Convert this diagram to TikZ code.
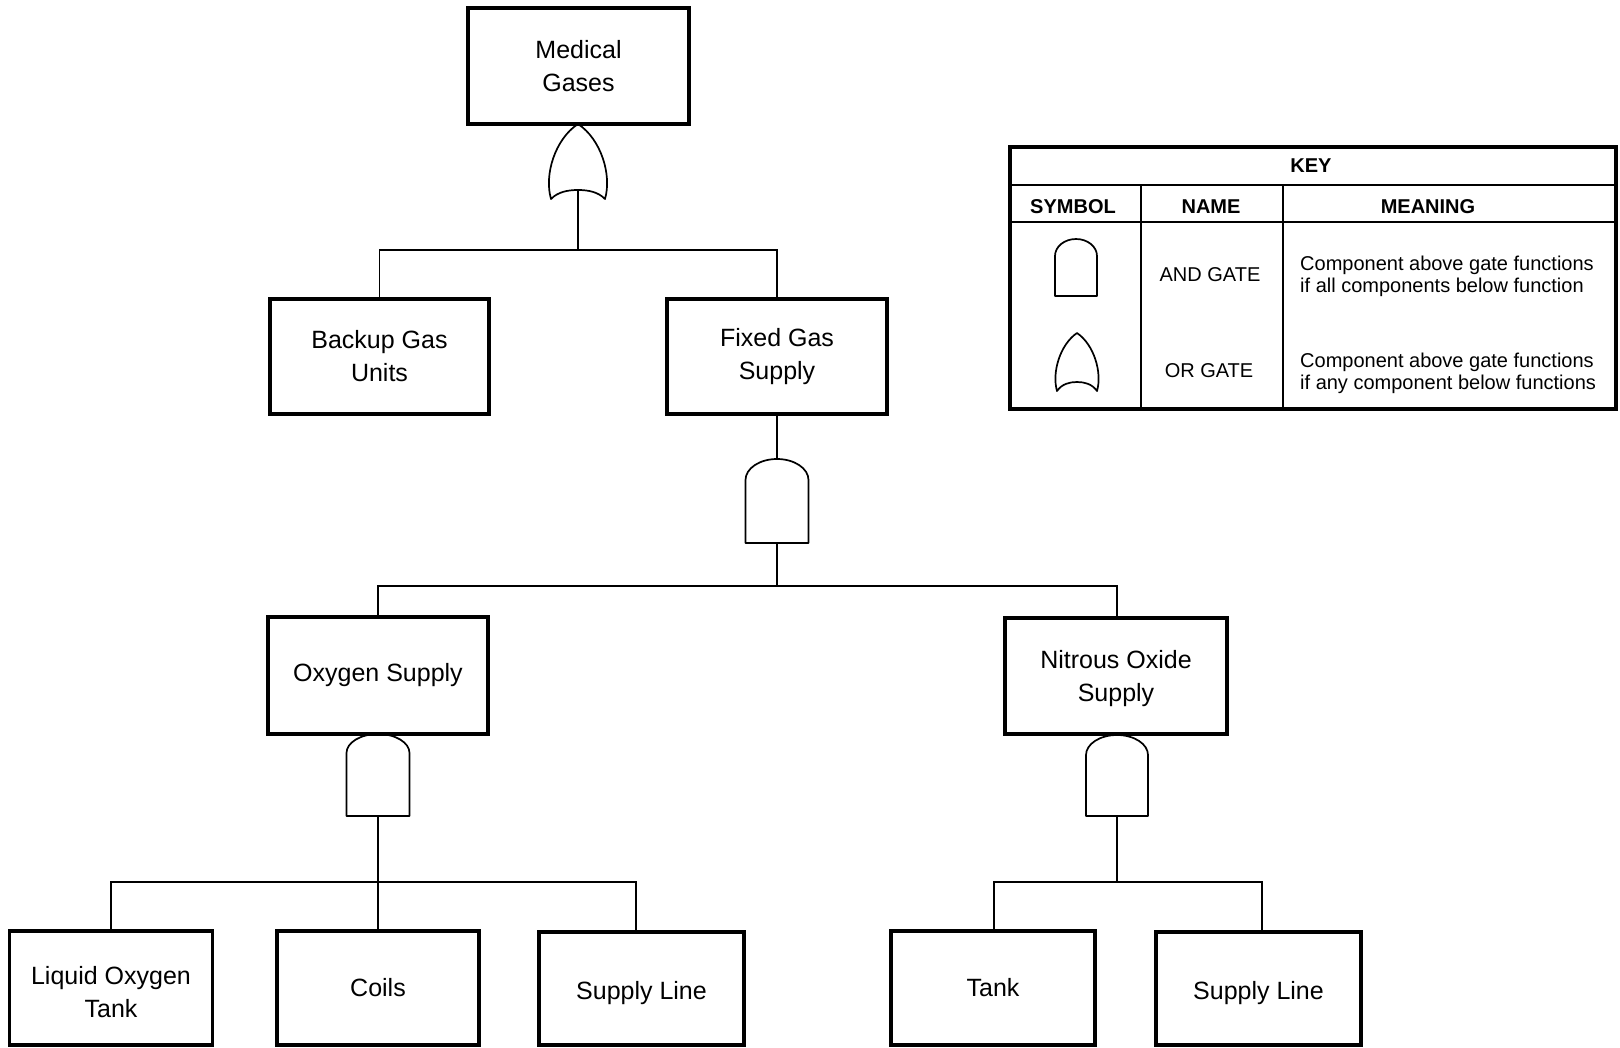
\documentclass[tikz,border=0pt]{standalone}
\usepackage{fontspec}
\setmainfont{Liberation Sans}
\newcommand{\drawAND}[6]{% name, cx, top, halfw, side start y, bottom
  \draw[gateline] ({#2-#4},{#6}) -- ({#2-#4},{#5})
    .. controls ({#2-#4},{#5-0.552*(#5-#3)}) and ({#2-0.552*#4},{#3}) .. ({#2},{#3})
    .. controls ({#2+0.552*#4},{#3}) and ({#2+#4},{#5-0.552*(#5-#3)}) .. ({#2+#4},{#5})
    -- ({#2+#4},{#6}) -- cycle;
  \coordinate (#1-top) at (#2,#3);
  \coordinate (#1-bot) at (#2,#6);
}
\newcommand{\drawOR}[6]{% name, cx, top, halfw, tip y, bottom centre y
  \draw[gateline] ({#2},{#3})
    .. controls ({#2-0.74*#4},{#3+0.2*(#5-#3)}) and ({#2-1.1*#4},{#3+0.68*(#5-#3)}) .. ({#2-0.87*#4},{#5})
    .. controls ({#2-0.65*#4},{#6+0.2*(#5-#6)}) and ({#2-0.32*#4},{#6}) .. ({#2},{#6})
    .. controls ({#2+0.32*#4},{#6}) and ({#2+0.65*#4},{#6+0.2*(#5-#6)}) .. ({#2+0.87*#4},{#5})
    .. controls ({#2+1.1*#4},{#3+0.68*(#5-#3)}) and ({#2+0.74*#4},{#3+0.2*(#5-#3)}) .. cycle;
  \coordinate (#1-top) at (#2,#3);
  \coordinate (#1-bot) at (#2,#6);
}
\begin{document}
\begin{tikzpicture}[x=1pt,y=-1pt,
  box/.style={draw, line width=3.6pt, rectangle, inner sep=0pt, align=center,
    font=\fontsize{25}{33}\selectfont},
  boxtext/.style={inner sep=0pt, align=center, font=\fontsize{25}{33}\selectfont},
  conn/.style={line width=1.5pt},
  gateline/.style={line width=1.7pt, line join=round},
  keyouter/.style={line width=3.6pt},
  keyinner/.style={line width=2.8pt},
  keyhead/.style={inner sep=0pt, font=\fontsize{20}{22}\selectfont\bfseries},
  keytext/.style={inner sep=0pt, align=left, font=\fontsize{20}{22}\selectfont},
]
\useasboundingbox (0,0) rectangle (1620,1047);
\fill[white] (0,0) rectangle (1620,1047);

% boxes
\node[box, minimum width=221pt, minimum height=116pt] (med) at (578.5,66) {Medical\\Gases};
\node[box, minimum width=219pt, minimum height=115pt] (backup) at (379.5,356.5) {Backup Gas\\Units};
\node[box, minimum width=220pt, minimum height=115pt] (fixed) at (777,356.5) {Fixed Gas\\Supply};
\node[box, minimum width=220pt, minimum height=117pt] (oxy) at (378,675.5) {Oxygen Supply};
\node[box, minimum width=222pt, minimum height=116pt] (nox) at (1116,676) {};
\node[boxtext] (noxtext) at ([yshift=-3pt]nox.center) {Nitrous Oxide\\Supply};
\node[box, minimum width=203pt, minimum height=114pt] (liq) at (111,988) {};
\node[boxtext] (liqtext) at ([yshift=-4pt]liq.center) {Liquid Oxygen\\Tank};
\node[box, minimum width=202pt, minimum height=114pt] (coils) at (378,988) {Coils};
\node[box, minimum width=205pt, minimum height=113pt] (sup1) at (641.5,988.5) {};
\node[boxtext] (sup1text) at ([yshift=-5pt]sup1.center) {Supply Line};
\node[box, minimum width=204pt, minimum height=114pt] (tank) at (993,988) {Tank};
\node[box, minimum width=205pt, minimum height=113pt] (sup2) at (1258.5,988.5) {};
\node[boxtext] (sup2text) at ([yshift=-5pt]sup2.center) {Supply Line};

% gates
\drawOR{g1}{578}{124}{31}{199}{190}
\drawAND{g2}{777}{459}{31.5}{480}{543}
\drawAND{g3}{378}{734}{31.5}{753}{816}
\drawAND{g4}{1117}{735}{31}{755}{816}

% connectors
\coordinate (bus1) at (578,250);
\draw[conn] (g1-bot) -- (bus1);
\draw[conn] (backup.north) |- (bus1) -| (fixed.north);

\coordinate (bus2) at (777,586);
\draw[conn] (fixed.south) -- (g2-top);
\draw[conn] (g2-bot) -- (bus2);
\draw[conn] (oxy.north) |- (bus2) -| ([xshift=1pt]nox.north);

\coordinate (bus3) at (378,882);
\draw[conn] (g3-bot) -- (coils.north);
\draw[conn] (liq.north) |- (bus3) -| ([xshift=-5.5pt]sup1.north);

\coordinate (bus4) at (1117,882);
\draw[conn] (g4-bot) -- (bus4);
\draw[conn] ([xshift=1pt]tank.north) |- (bus4) -| ([xshift=3.5pt]sup2.north);

% key
\draw[keyouter] (1010,147) rectangle (1616,409);
\draw[keyinner] (1010,185) -- (1616,185);
\draw[keyinner] (1010,222) -- (1616,222);
\draw[keyinner] (1141,185) -- (1141,409);
\draw[keyinner] (1283,185) -- (1283,409);
\node[keyhead] (kkey) at (1311,166) {KEY};
\node[keyhead] (ksym) at (1073,207) {SYMBOL};
\node[keyhead] (kname) at (1211,207) {NAME};
\node[keyhead] (kmean) at (1428,207) {MEANING};
\drawAND{kand}{1076}{239}{21}{256}{296}
\drawOR{kor}{1077}{333}{23}{391}{382}
\node[keytext] (kandn) at (1210,275) {AND GATE};
\node[keytext] (korn) at (1209,371) {OR GATE};
\node[keytext, anchor=west] (kandm) at (1300,276) {Component above gate functions\\if all components below function};
\node[keytext, anchor=west] (korm) at (1300,373) {Component above gate functions\\if any component below functions};
\end{tikzpicture}
\end{document}
